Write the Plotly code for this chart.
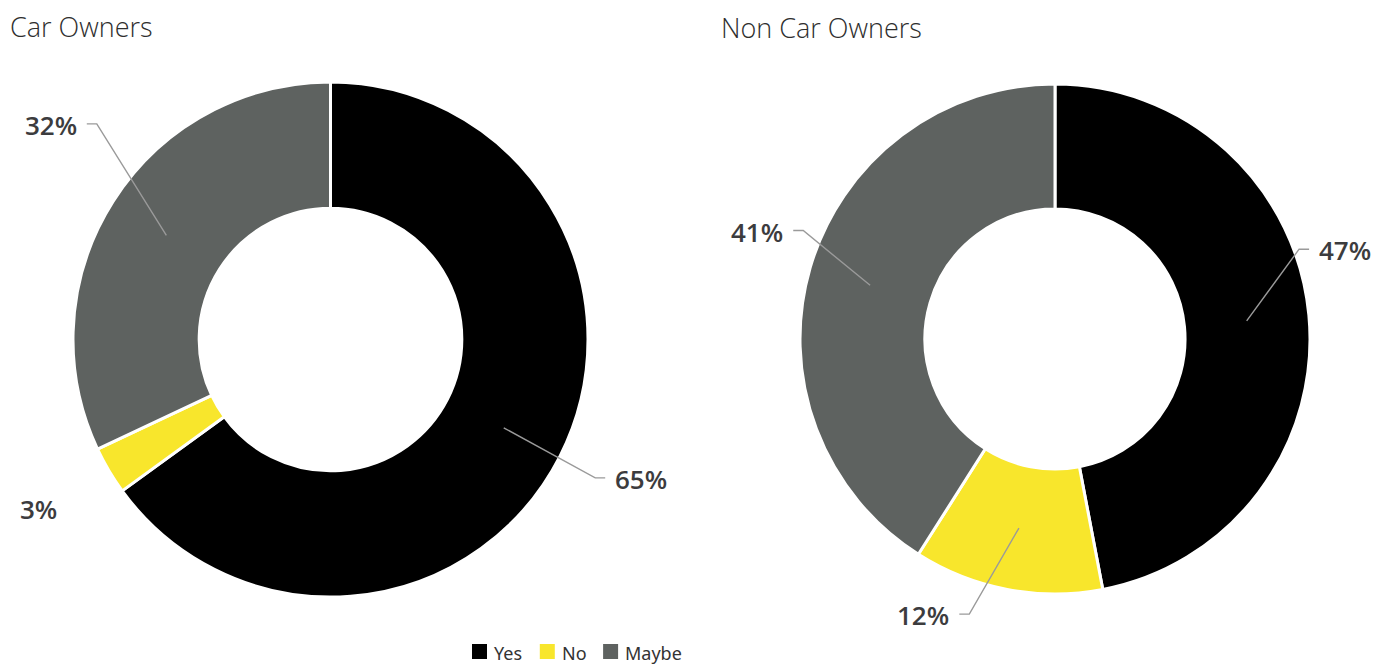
import math
import plotly.graph_objects as go

# ---------------- data ----------------
categories = ["Yes", "No", "Maybe"]
car_owners = [65, 3, 32]
non_car_owners = [47, 12, 41]
chart_titles = ["Car Owners", "Non Car Owners"]

# ---------------- style / layout ----------------
W, H = 1386, 664
colors = ["#000000", "#F8E62C", "#5E6260"]
HOLE = 0.51
# pie domains in pixels (left, top, right, bottom)
pie_boxes = [(73, 82, 588, 597), (800, 84, 1310, 594)]
title_pos = [(8, 27), (719, 28)]
# label placement tweaks: (angle offset deg, elbow radius factor, draw leader)
label_tweaks = [
    [(0.6, 1.16, True), (-3.0, 1.18, False), (10.3, 1.235, True)],
    [(-14.8, 1.02, True), (6.5, 1.13, True), (7.1, 1.075, True)],
]
LABEL_FONT = dict(family="Open Sans, Noto Sans, sans-serif", size=26, color="#3C3C3E", weight=600)
TITLE_FONT = dict(family="Open Sans, Noto Sans, sans-serif", size=27, color="#2E2E2E", weight=300)
LEG_FONT = dict(family="Noto Sans, sans-serif", size=18, color="#333333")
LINE_COLOR = "#9A9A9A"


def px(x, y):
    return x / W, 1 - y / H


fig = go.Figure()
shapes = []
annotations = []

for i, (vals, box) in enumerate(zip([car_owners, non_car_owners], pie_boxes)):
    l, t, r, b = box
    x0, y1 = px(l, t)
    x1, y0 = px(r, b)
    fig.add_trace(go.Pie(
        labels=categories, values=vals, hole=HOLE, sort=False,
        direction="clockwise", rotation=0,
        marker=dict(colors=colors, line=dict(color="#FFFFFF", width=3)),
        textinfo="none", showlegend=False,
        domain=dict(x=[x0, x1], y=[y0, y1]),
        name=chart_titles[i],
    ))
    cx, cy = (l + r) / 2, (t + b) / 2
    R = min(r - l, b - t) / 2
    rmid = R * (1 + HOLE) / 2
    total = sum(vals)
    cum = 0
    for j, v in enumerate(vals):
        mid = (cum + v / 2) / total * 360
        cum += v
        off, fac, draw = label_tweaks[i][j]
        a0 = math.radians(mid)
        sx, sy = cx + rmid * math.sin(a0), cy - rmid * math.cos(a0)
        a1 = math.radians(mid + off)
        ex, ey = cx + R * fac * math.sin(a1), cy - R * fac * math.cos(a1)
        side = 1 if ex >= cx else -1
        stub_x = ex + side * 10
        if draw:
            p = [px(sx, sy), px(ex, ey), px(stub_x, ey)]
            path = "M{},{} L{},{} L{},{}".format(p[0][0], p[0][1], p[1][0], p[1][1], p[2][0], p[2][1])
            shapes.append(dict(type="path", xref="paper", yref="paper", path=path,
                               line=dict(color=LINE_COLOR, width=1.4)))
        tx, ty = px(stub_x + side * 8, ey + 1)
        annotations.append(dict(
            x=tx, y=ty, xref="paper", yref="paper", showarrow=False,
            text=f"{v}%", xanchor="left" if side > 0 else "right", yanchor="middle",
            font=LABEL_FONT,
        ))

# titles
for (tx, ty), title in zip(title_pos, chart_titles):
    x, y = px(tx, ty)
    annotations.append(dict(x=x, y=y, xref="paper", yref="paper", showarrow=False,
                            text=title, xanchor="left", yanchor="middle", font=TITLE_FONT))

# legend (manual, bottom)
char_w = {"Y": .56, "e": .56, "s": .48, "N": .75, "o": .6, "M": .9, "a": .56, "y": .52, "b": .61}
lx = 472
sq = 15
leg_top = 644
for name, col in zip(categories, colors):
    x0, y1 = px(lx, leg_top)
    x1, y0 = px(lx + sq, leg_top + sq)
    shapes.append(dict(type="rect", xref="paper", yref="paper", x0=x0, x1=x1, y0=y0, y1=y1,
                       fillcolor=col, line=dict(width=0)))
    tx, ty = px(lx + sq + 5, leg_top + 9)
    annotations.append(dict(x=tx, y=ty, xref="paper", yref="paper", showarrow=False,
                            text=name, xanchor="left", yanchor="middle", font=LEG_FONT))
    tw = sum(char_w.get(c, .58) for c in name) * LEG_FONT["size"]
    lx += sq + 6 + tw + 18

fig.update_layout(
    width=W, height=H,
    margin=dict(l=0, r=0, t=0, b=0),
    paper_bgcolor="#FFFFFF", plot_bgcolor="#FFFFFF",
    shapes=shapes, annotations=annotations,
    showlegend=False,
)

fig.write_html("out.html")
